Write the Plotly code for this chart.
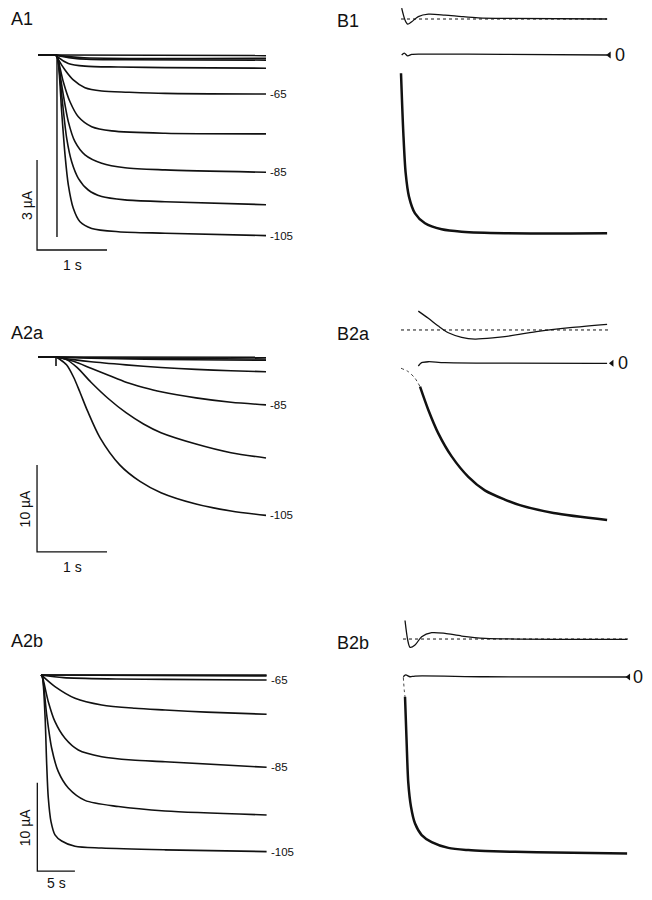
import plotly.graph_objects as go

# the page body has an 8 px margin: the figure is drawn 16 px smaller so the
# page never overflows, and every reference pixel position is shifted by OFF
REF_W, REF_H, OFF = 652, 900, 8
W, H = REF_W - 2 * OFF, REF_H - 2 * OFF
FONT = "Liberation Sans, Arial, Helvetica, sans-serif"
INK = "#111111"

# ================= DATA (time in s, current in µA) =================
# ---- A1: 3 s hyperpolarizing steps ----
A1_VOLTS = [-25, -35, -45, -55, -65, -75, -85, -95, -105]
A1_T = [
    [0, 3.0],
    [0, 0.05, 0.4, 3.0],
    [0, 0.05, 0.3, 1.0, 3.0],
    [0, 0.024, 0.176, 0.414, 0.89, 1.557, 3.0],
    [0, 0.024, 0.129, 0.247, 0.414, 0.653, 1.033, 1.557, 3.0],
    [0, 0.024, 0.104, 0.2, 0.319, 0.51, 0.796, 1.557, 3.0],
    [0, 0.024, 0.081, 0.176, 0.271, 0.414, 0.653, 0.986, 1.557, 3.0],
    [0, 0.024, 0.081, 0.153, 0.224, 0.319, 0.461, 0.653, 0.986, 1.557, 3.0],
    [0, 0.024, 0.081, 0.129, 0.176, 0.247, 0.343, 0.51, 0.89, 1.56, 3.0],
]
A1_I = [
    [0, -0.02],
    [0, -0.02, -0.09, -0.11],
    [0, -0.03, -0.12, -0.16, -0.17],
    [0, -0.06, -0.28, -0.37, -0.40, -0.42, -0.44],
    [0, -0.11, -0.50, -0.83, -1.09, -1.20, -1.24, -1.28, -1.30],
    [0, -0.11, -0.89, -1.56, -2.06, -2.39, -2.53, -2.61, -2.63],
    [0, -0.11, -1.00, -2.22, -2.89, -3.33, -3.61, -3.76, -3.83, -3.91],
    [0, -0.11, -1.33, -2.78, -3.56, -4.11, -4.50, -4.72, -4.83, -4.89, -4.99],
    [0, -0.11, -1.89, -3.33, -4.33, -5.11, -5.56, -5.78, -5.89, -5.94, -6.02],
]
A1_LABELLED = [-65, -85, -105]
A1_HOLD_T = [-0.257, 0.0]
A1_TRANSIENT_I = [0.0, -6.07]

# ---- A2a: 3 s steps (sigmoidal activation) ----
A2A_VOLTS = [-45, -55, -65, -75, -85, -95, -105]
A2A_T = [
    [0, 3.0],
    [0, 0.5, 3.0],
    [0, 0.5, 1.5, 3.0],
    [0, 0.25, 0.5, 1.0, 1.5, 2.0, 2.5, 3.0],
    [0, 0.25, 0.5, 0.75, 1.0, 1.25, 1.5, 2.0, 2.5, 3.0],
    [0, 0.15, 0.3, 0.5, 0.75, 1.0, 1.25, 1.5, 2.0, 2.5, 3.0],
    [0, 0.06, 0.15, 0.25, 0.34, 0.45, 0.63, 0.91, 1.2, 1.5, 2.0, 2.5, 3.0],
]
A2A_I = [
    [0, -0.03],
    [0, -0.10, -0.23],
    [0, -0.15, -0.28, -0.38],
    [0, -0.30, -0.55, -0.90, -1.20, -1.42, -1.58, -1.69],
    [0, -0.50, -1.30, -2.10, -2.90, -3.50, -4.00, -4.70, -5.20, -5.50],
    [0, -0.30, -1.20, -2.90, -4.80, -6.40, -7.70, -8.70, -10.0, -11.0, -11.6],
    [0, -0.30, -0.90, -2.30, -4.00, -6.20, -9.30, -12.4, -14.3, -15.6, -16.9, -17.7, -18.2],
]
A2A_LABELLED = [-85, -105]
A2A_HOLD_T = [-0.257, 0.0]
A2A_TICK_I = [0.0, -1.03]

# ---- A2b: 30 s steps ----
A2B_VOLTS = [-45, -55, -65, -75, -85, -95, -105]
A2B_T = [
    [0, 30],
    [0, 30],
    [0, 3, 10, 16.5, 30],
    [0, 0.17, 1.86, 4.52, 8.07, 12.5, 16.5, 22, 30],
    [0, 0.17, 0.97, 1.86, 3.19, 4.96, 8.07, 12.1, 16.5, 30],
    [0, 0.17, 0.76, 1.42, 2.3, 3.63, 5.85, 10.3, 16.5, 30],
    [0, 0.17, 0.53, 0.76, 0.97, 1.33, 1.86, 2.75, 4.52, 8.07, 16.5, 30],
]
A2B_I = [
    [0, 0.0],
    [0, -0.10],
    [0, -0.30, -0.45, -0.50, -0.57],
    [0, -0.11, -1.32, -2.64, -3.40, -3.77, -3.96, -4.20, -4.45],
    [0, -0.19, -3.02, -5.29, -7.17, -8.49, -9.25, -9.63, -9.82, -10.45],
    [0, -0.19, -4.53, -8.30, -10.95, -12.8, -14.2, -14.9, -15.4, -15.85],
    [0, -0.19, -4.53, -10.2, -13.9, -16.6, -18.1, -18.8, -19.4, -19.6, -19.8, -20.0],
]
A2B_LABELLED = [-65, -85, -105]

# ---- B1: fit of the -105 trace of A1 ----
B1_FIT_T = [0, 0.034, 0.068, 0.116, 0.204, 0.349, 0.592, 0.883, 1.51, 3.0]
B1_FIT_I = [-0.61, -2.61, -3.94, -4.72, -5.28, -5.61, -5.81, -5.89, -5.94, -5.94]
B1_RES_T = [0.01, 0.048, 0.098, 0.156, 0.3, 1.5, 3.0]
B1_RES_I = [0.0, 0.06, -0.03, 0.02, 0.03, 0.02, 0.0]
B1_AMP_T = [0.01, 0.058, 0.098, 0.156, 0.252, 0.398, 0.64, 0.883, 1.125, 1.51, 3.0]
B1_AMP_I = [1.56, 1.17, 1.03, 1.11, 1.28, 1.36, 1.33, 1.28, 1.24, 1.22, 1.20]
B1_BASE_T = [0.0, 3.0]
B1_BASE_I = 1.20

# ---- B2a: fit of the -105 trace of A2a ----
B2A_PRE_T = [0, 0.106, 0.204, 0.277]
B2A_PRE_I = [-0.57, -0.96, -1.72, -2.68]
B2A_FIT_T = [0.277, 0.398, 0.543, 0.737, 0.98, 1.22, 1.51, 1.73, 2.22, 3.0]
B2A_FIT_I = [-2.68, -5.36, -8.05, -10.7, -13.05, -14.6, -15.66, -16.3, -17.2, -18.0]
B2A_RES_T = [0.252, 0.30, 0.398, 0.64, 3.0]
B2A_RES_I = [-0.31, 0.07, 0.18, 0.07, 0.0]
B2A_AMP_T = [0.252, 0.398, 0.543, 0.689, 0.883, 1.077, 1.368, 1.51, 1.97, 2.46, 3.0]
B2A_AMP_I = [6.0, 5.17, 4.28, 3.51, 2.99, 2.79, 2.94, 3.06, 3.63, 4.09, 4.48]
B2A_BASE_T = [0.0, 3.03]
B2A_BASE_I = 3.83

# ---- B2b: fit of the -105 trace of A2b ----
B2B_PRE_T = [0.04, 0.17, 0.27]
B2B_PRE_I = [-0.03, -1.5, -2.23]
B2B_FIT_T = [0.27, 0.49, 0.71, 1.07, 1.61, 2.5, 3.84, 6.07, 8.75, 11.0, 17.9, 30]
B2B_FIT_I = [-2.23, -7.5, -12.0, -14.7, -16.6, -17.9, -18.7, -19.35, -19.6, -19.7, -19.86, -20.0]
B2B_RES_T = [0.04, 0.36, 0.94, 1.61, 11, 30]
B2B_RES_I = [0.03, 0.23, 0.03, 0.11, 0.03, 0.0]
B2B_AMP_T = [0.27, 0.63, 0.94, 1.61, 2.5, 3.84, 5.62, 7.85, 11.0, 30]
B2B_AMP_I = [6.4, 4.19, 3.36, 3.62, 4.57, 5.02, 4.94, 4.64, 4.38, 4.25]
B2B_BASE_T = [0.0, 30.2]
B2B_BASE_I = 4.3

# scale bars
A1_BAR_T, A1_BAR_I = 1.0, 3.0
A2A_BAR_T, A2A_BAR_I = 1.0, 10.0
A2B_BAR_T, A2B_BAR_I = 5.0, 10.0

# ================= LAYOUT HELPERS =================
fig = go.Figure()
layout_axes = {}

# panel: (index, box in reference px [x0,y0,x1,y1], t=0 x px, px per s, I=0 y px, px per µA)
PANELS = {
    "A1":  (1, (8, 8, 320, 290), 56, 70.0, 55, 30.0),
    "B1":  (2, (320, 8, 644, 290), 401, 68.7, 55, 30.0),
    "A2a": (3, (8, 290, 320, 590), 56, 70.0, 357, 8.7),
    "B2a": (4, (320, 290, 644, 590), 401, 68.7, 363.3, 8.7),
    "A2b": (5, (8, 590, 320, 892), 41, 7.52, 675, 8.83),
    "B2b": (6, (320, 590, 644, 892), 403, 7.47, 677, 8.83),
}


def refs(name):
    n = PANELS[name][0]
    return ("x" if n == 1 else f"x{n}"), ("y" if n == 1 else f"y{n}")


for name, (n, box, x0px, pxps, y0px, pxpu) in PANELS.items():
    bx0, by0, bx1, by1 = box
    sfx = "" if n == 1 else str(n)
    layout_axes[f"xaxis{sfx}"] = dict(
        domain=[(bx0 - OFF) / W, (bx1 - OFF) / W],
        range=[(bx0 - x0px) / pxps, (bx1 - x0px) / pxps],
        visible=False, fixedrange=True, anchor=f"y{sfx}",
    )
    layout_axes[f"yaxis{sfx}"] = dict(
        domain=[1 - (by1 - OFF) / H, 1 - (by0 - OFF) / H],
        range=[(y0px - by1) / pxpu, (y0px - by0) / pxpu],
        visible=False, fixedrange=True, anchor=f"x{sfx}",
    )


def line(panel, x, y, width=1.6, dash="solid", shape="spline"):
    xr, yr = refs(panel)
    fig.add_trace(go.Scatter(
        x=x, y=y, mode="lines", xaxis=xr, yaxis=yr, showlegend=False,
        hoverinfo="skip", cliponaxis=False,
        line=dict(color=INK, width=width, dash=dash, shape=shape, smoothing=0.8),
    ))


annotations = []


def text(panel, x, y, s, size=11, xanchor="left", textangle=0, xshift=0, yshift=0):
    xr, yr = refs(panel)
    annotations.append(dict(
        x=x, y=y, xref=xr, yref=yr, text=s, showarrow=False,
        xanchor=xanchor, yanchor="middle", textangle=textangle,
        xshift=xshift, yshift=yshift, borderpad=0,
        font=dict(family=FONT, size=size, color=INK),
    ))


def scale_bar(panel, t0, i_top, dt, di, tlabel, ilabel, ilabel_dx, tlabel_dy):
    line(panel, [t0, t0, t0 + dt], [i_top, i_top - di, i_top - di], width=1.3, shape="linear")
    text(panel, t0, i_top - di / 2, ilabel, size=14, xanchor="center",
         textangle=-90, xshift=ilabel_dx)
    text(panel, t0 + dt / 2, i_top - di, tlabel, size=14, xanchor="center",
         yshift=tlabel_dy)


def end_labels(panel, volts, ts, is_, labelled):
    for v, t, i in zip(volts, ts, is_):
        if v in labelled:
            text(panel, t[-1], i[-1], str(v), size=11.5, xshift=3)


def zero_marker(panel, t, xs):
    xr, yr = refs(panel)
    fig.add_trace(go.Scatter(
        x=[t], y=[0], mode="markers", xaxis=xr, yaxis=yr, showlegend=False,
        hoverinfo="skip", cliponaxis=False,
        marker=dict(symbol="triangle-left", size=6, color=INK),
    ))
    text(panel, t, 0, "0", size=18, xshift=xs)


# ================= A1 =================
line("A1", A1_HOLD_T, [0, 0], width=2.0, shape="linear")
line("A1", [0.014, 0.014], A1_TRANSIENT_I, width=1.4, shape="linear")
for t, i in zip(A1_T, A1_I):
    line("A1", t, i)
end_labels("A1", A1_VOLTS, A1_T, A1_I, A1_LABELLED)
scale_bar("A1", -0.271, -3.5, A1_BAR_T, A1_BAR_I, "1 s", "3 µA", -10, -15)

# ================= A2a =================
line("A2a", A2A_HOLD_T, [0, 0], width=2.0, shape="linear")
line("A2a", [0.0, 0.0], A2A_TICK_I, width=1.6, shape="linear")
for t, i in zip(A2A_T, A2A_I):
    line("A2a", t, i)
end_labels("A2a", A2A_VOLTS, A2A_T, A2A_I, A2A_LABELLED)
scale_bar("A2a", -0.271, -12.4, A2A_BAR_T, A2A_BAR_I, "1 s", "10 µA", -12, -15)

# ================= A2b =================
for t, i in zip(A2B_T, A2B_I):
    line("A2b", t, i)
end_labels("A2b", A2B_VOLTS, A2B_T, A2B_I, A2B_LABELLED)
scale_bar("A2b", -0.49, -12.2, A2B_BAR_T, A2B_BAR_I, "5 s", "10 µA", -12, -12)

# ================= B1 =================
line("B1", B1_BASE_T, [B1_BASE_I] * 2, width=1.0, dash="dot", shape="linear")
line("B1", B1_AMP_T, B1_AMP_I, width=1.3)
line("B1", B1_RES_T, B1_RES_I, width=1.3)
line("B1", B1_FIT_T, B1_FIT_I, width=2.5)
zero_marker("B1", 3.03, 5)

# ================= B2a =================
line("B2a", B2A_BASE_T, [B2A_BASE_I] * 2, width=1.0, dash="dot", shape="linear")
line("B2a", B2A_AMP_T, B2A_AMP_I, width=1.3)
line("B2a", B2A_RES_T, B2A_RES_I, width=1.3)
line("B2a", B2A_PRE_T, B2A_PRE_I, width=0.8, dash="dot")
line("B2a", B2A_FIT_T, B2A_FIT_I, width=2.5)
zero_marker("B2a", 3.07, 5)

# ================= B2b =================
line("B2b", B2B_BASE_T, [B2B_BASE_I] * 2, width=1.0, dash="dot", shape="linear")
line("B2b", B2B_AMP_T, B2B_AMP_I, width=1.3)
line("B2b", B2B_RES_T, B2B_RES_I, width=1.3)
line("B2b", B2B_PRE_T, B2B_PRE_I, width=0.8, dash="dot")
line("B2b", B2B_FIT_T, B2B_FIT_I, width=2.5)
zero_marker("B2b", 30.2, 3)

# ================= panel letters =================
for lab, px, py in [("A1", 10, 19), ("B1", 336, 21), ("A2a", 10, 333),
                    ("B2a", 336, 334), ("A2b", 10, 641), ("B2b", 336, 643)]:
    annotations.append(dict(
        x=(px - OFF) / W, y=1 - (py - OFF) / H, xref="paper", yref="paper",
        text=lab, showarrow=False, xanchor="left", yanchor="middle",
        borderpad=0, font=dict(family=FONT, size=18, color=INK),
    ))

fig.update_layout(
    width=W, height=H, autosize=False,
    margin=dict(l=0, r=0, t=0, b=0),
    paper_bgcolor="white", plot_bgcolor="white",
    annotations=annotations,
    **layout_axes,
)

fig.write_html("out.html")
